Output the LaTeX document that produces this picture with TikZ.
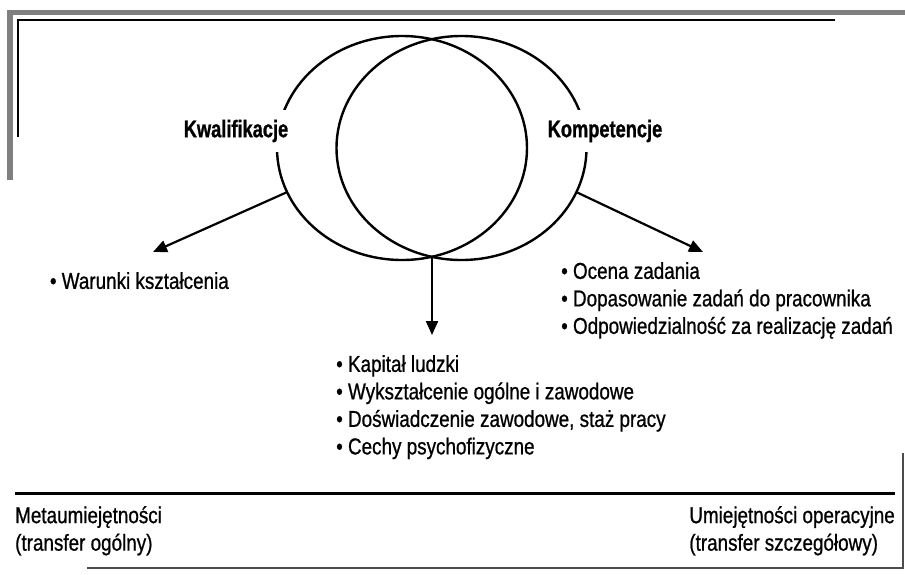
\documentclass[tikz,border=0pt]{standalone}
\usepackage{fontspec}
\setmainfont{Liberation Sans}[FakeStretch=0.82]
\newfontfamily\listfont{Liberation Sans}[FakeStretch=0.82, FakeBold=0.8]
\newfontfamily\headfont{Liberation Sans Bold}[FakeStretch=0.76, FakeBold=1]
\usetikzlibrary{shapes.geometric,arrows.meta}

\definecolor{framegray}{RGB}{128,128,128}
\tikzset{
  ring/.style={draw, ellipse, line width=2.4pt, minimum width=250pt, minimum height=224pt, inner sep=0pt, outer sep=0pt},
  head/.style={font=\headfont\fontsize{24}{28}\selectfont, fill=white, inner xsep=2pt, minimum height=42pt},
  txt/.style={font=\listfont\fontsize{23}{27.5}\selectfont, inner sep=0pt, align=left},
  arr/.style={line width=2.2pt, -{Triangle[length=14pt,width=12pt]}},
}

\begin{document}
\begin{tikzpicture}[x=1pt,y=-1pt]
\useasboundingbox (0,0) rectangle (905,574);

% frame
\fill[framegray] (7,10) rectangle (905,15);
\fill[framegray] (7,10) rectangle (13,180);
\draw[line width=1.2pt] (835,20) -- (18,20) -- (18,137);
\draw[line width=3pt] (15,493) -- (895,493);
\draw[line width=1.4pt, black!70] (87,568) -- (903,568) -- (903,453);

% the two rings
\node[ring] (kwalring) at (402,148) {};
\node[ring] (kompring) at (461.5,148) {};
\node[head] (kwal) at (236,131) {Kwalifikacje};
\node[head] (komp) at (605,131) {Kompetencje};

\coordinate (meet) at (432,257);
\coordinate (ltip) at (153,252);
\coordinate (mtip) at (432,335);
\coordinate (rtip) at (703,252);
\draw[arr] (kwalring.201) -- (ltip);
\draw[arr] (meet) -- (mtip);
\draw[arr] (kompring.339) -- (rtip);

% lists
\node[txt, anchor=north east] (warunki) at (229,272) {• Warunki kształcenia};
\node[txt, anchor=north west] (kapital) at (336,355)
  {• Kapitał ludzki\\• Wykształcenie ogólne i zawodowe\\• Doświadczenie zawodowe, staż pracy\\• Cechy psychofizyczne};
\node[txt, anchor=north west] (ocena) at (561,262)
  {• Ocena zadania\\• Dopasowanie zadań do pracownika\\• Odpowiedzialność za realizację zadań};

% bottom
\node[txt, anchor=north west] (meta) at (15,506) {Metaumiejętności\\(transfer ogólny)};
\node[txt, anchor=north east] (oper) at (895,506) {Umiejętności operacyjne\\(transfer szczegółowy)};
\end{tikzpicture}
\end{document}
